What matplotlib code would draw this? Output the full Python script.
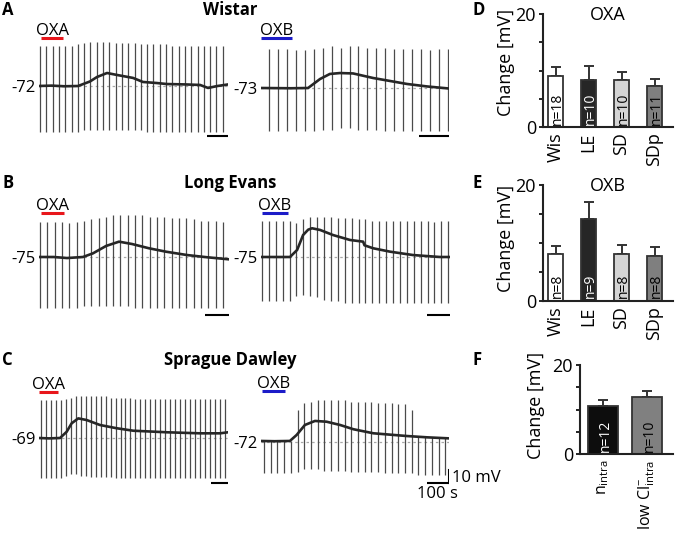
import numpy as np
import matplotlib.pyplot as plt

plt.rcParams['font.family'] = ['Open Sans', 'DejaVu Sans']
plt.rcParams['mathtext.fontset'] = 'custom'
plt.rcParams['mathtext.rm'] = 'Open Sans'

W, H = 675, 535
PX_MV = 1.3     # trace scale: pixels per mV
GAP = 30        # s between current pulses

# ---- A: Wistar ----  (t in s, vm / pulse tips in mV relative to rest)
wis_oxa_rest = -72
wis_oxa_t = [0, 60, 120, 186, 243, 276, 324, 371, 448, 495, 560, 610, 700, 767, 805, 850, 900]
wis_oxa_vm = [0, 0.3, -0.2, 0, 3.5, 6.9, 10, 8.5, 6.2, 3.1, 2.3, 1.5, 1.2, 0.8, -1.5, 0, 1.2]
wis_oxa_top = [31, 31, 31, 31, 31, 31, 32, 33, 34, 34, 34, 34, 33, 33, 33, 33,
               32, 32, 32, 32, 32, 31, 31, 31, 31, 31, 31, 31, 31, 31, 31]
wis_oxa_bot = [-35, -35, -35, -35, -35, -35, -35, -34, -34, -34, -34, -34, -34, -34, -34, -34,
               -34, -35, -35, -35, -35, -35, -35, -35, -35, -35, -35, -35, -35, -35, -35]
wis_oxa_drug = [10, 114]

wis_oxb_rest = -73
wis_oxb_t = [0, 100, 158, 198, 231, 265, 309, 376, 433, 490, 557, 631]
wis_oxb_vm = [0, -0.2, 0, 6.9, 10.8, 11.5, 11.2, 7.7, 5.4, 3.1, 1.2, -0.4]
wis_oxb_top = [30, 30, 30, 29, 29, 30, 31, 32, 31, 32, 32, 31, 31, 31, 30, 30, 30, 30, 29, 30, 30]
wis_oxb_bot = [-33, -33, -33, -33, -33, -33, -32, -32, -31, -31, -32, -32, -32, -33, -33,
               -33, -33, -33, -33, -33, -33]
wis_oxb_drug = [0, 104]

# ---- B: Long Evans ----
le_oxa_rest = -75
le_oxa_t = [0, 60, 115, 180, 221, 275, 328, 381, 451, 520, 607, 689, 779]
le_oxa_vm = [0, 0, -0.8, 0, 2.8, 8.5, 11.8, 10, 6.7, 4.1, 1.5, -0.2, -1.8]
le_oxa_top = [27, 27, 27, 27, 26, 27, 28, 29, 30, 31, 32, 32, 32, 32, 32, 31, 31, 31, 30, 30,
              30, 29, 28, 28, 28, 27]
le_oxa_bot = [-39, -39, -39, -39, -39, -39, -38, -38, -38, -38, -38, -38, -38, -39, -39, -39,
              -39, -39, -39, -39, -39, -39, -39, -39, -39, -39]
le_oxa_drug = [8, 102]

le_oxb_rest = -75
le_oxb_t = [0, 60, 126, 157, 183, 205, 222, 257, 313, 387, 444, 450, 488, 561, 661, 778, 822]
le_oxb_vm = [0, 0, 0, 5.4, 16.9, 21, 22.1, 20.8, 16.9, 13.1, 11.8, 9, 6.7, 4.1, 1.5, 0, 0]
le_oxb_top = [28, 28, 28, 28, 28, 26, 29, 31, 31, 31, 31, 30, 30, 30, 29, 29, 28, 28, 28, 28,
              28, 28, 28, 28, 28, 27, 28, 28]
le_oxb_bot = [-34, -34, -34, -34, -34, -30, -29, -30, -31, -33, -34, -34, -35, -35, -35, -35,
              -35, -35, -35, -35, -35, -35, -35, -35, -35, -35, -35, -35]
le_oxb_drug = [4, 117]

# ---- C: Sprague Dawley ----
sd_oxa_rest = -69
sd_oxa_t = [0, 60, 127, 167, 197, 237, 288, 368, 469, 569, 771, 972, 1093, 1140]
sd_oxa_vm = [0, -0.3, 0, 4.8, 11.3, 15.1, 13.8, 10, 7.5, 5.6, 4.4, 3.6, 3.6, 4.4]
sd_oxa_top = [29, 29, 29, 29, 29, 30, 31, 32, 32, 32, 32, 32, 32, 32, 31, 31, 31, 31, 31,
              30, 30, 30, 30, 30, 30, 30, 30, 30, 30, 30, 30, 30, 30, 30, 30, 30, 30, 30]
sd_oxa_bot = [-31, -31, -31, -31, -31, -29, -28, -28, -29, -29, -30, -30, -30, -30, -30, -31,
              -31, -31, -31, -31, -31, -31, -31, -31, -31, -31, -31, -31, -31, -31, -31, -31,
              -31, -31, -31, -31, -31, -31]
sd_oxa_drug = [0, 115]

sd_oxb_rest = -72
sd_oxb_t = [0, 60, 129, 159, 196, 241, 293, 353, 413, 502, 651, 741, 839]
sd_oxb_vm = [0.8, 0.6, 0.8, 5.4, 13.1, 16.2, 15.6, 13.1, 9.8, 6.7, 4.6, 3.6, 2.8]
sd_oxb_top = [1, 1, 1, 1, 1, 25, 30, 31, 32, 32, 32, 32, 32, 31, 31, 31, 31, 30, 30, 30,
              29, 29, 25, 4, 4, 3.5, 3.5, 3]
sd_oxb_bot = [-24, -24, -24, -24, -24, -23, -21, -21, -21, -22, -22, -22, -22, -23, -23, -23,
              -23, -23, -24, -24, -24, -24, -24, -25, -25, -25, -25, -25]
sd_oxb_drug = [5, 107]

# ---- D-F: mean change +/- SEM ----
rat_groups = ['Wis', 'LE', 'SD', 'SDp']
oxa_mean = [9.1, 8.3, 8.4, 7.3]
oxa_sem = [1.6, 2.5, 1.4, 1.2]
oxa_n = [18, 10, 10, 11]
oxb_mean = [8.0, 14.1, 8.0, 7.8]
oxb_sem = [1.5, 3.0, 1.7, 1.4]
oxb_n = [8, 9, 8, 8]
sol_groups = [r'n$_{\mathrm{intra}}$', r'low Cl$^{-}_{\mathrm{intra}}$']
sol_mean = [10.8, 12.7]
sol_sem = [1.3, 1.5]
sol_n = [12, 10]

fig = plt.figure(figsize=(W / 100, H / 100), dpi=100)


def fy(row):
    # pixel row (from top) -> figure fraction
    return 1 - row / H


def draw_trace(x0, base, pps, drug_row, bar_row, t, vm, top, bot, first, rest, drug, label, colour):
    ylo, yhi = -55, 50
    t_end = t[-1]
    ax = fig.add_axes([x0 / W, fy(base - ylo * PX_MV), t_end * pps / W, (yhi - ylo) * PX_MV / H])
    ax.set_xlim(0, t_end)
    ax.set_ylim(ylo, yhi)
    ax.axis('off')
    pulses = first + GAP * np.arange(len(top))
    ax.vlines(pulses, bot, top, colors='#4a4a4a', lw=0.9, zorder=2)
    ax.axhline(0, color='#a8a8a8', lw=0.9, ls=(0, (2, 2.5)), zorder=1)
    ax.plot(t, vm, color='#262626', lw=1.9, zorder=3)
    yd = (base - drug_row) / PX_MV
    ax.plot(drug, [yd, yd], color=colour, lw=2.2, solid_capstyle='butt')
    ax.annotate(label, (np.mean(drug), yd), xytext=(0, 3), textcoords='offset pixels',
                ha='center', va='baseline', fontsize=12)
    ax.annotate(str(rest), (0, 0), xytext=(-3, 0), textcoords='offset pixels',
                ha='right', va='center_baseline', fontsize=12)
    ys = (base - bar_row) / PX_MV
    ax.plot([t_end - 100, t_end], [ys, ys], color='k', lw=1.5, solid_capstyle='butt')
    return ax, ys


draw_trace(39, 86, 0.21, 38, 136, wis_oxa_t, wis_oxa_vm, wis_oxa_top, wis_oxa_bot, 5,
           wis_oxa_rest, wis_oxa_drug, 'OXA', '#e8161b')
draw_trace(261, 88, 0.298, 38, 136, wis_oxb_t, wis_oxb_vm, wis_oxb_top, wis_oxb_bot, 27,
           wis_oxb_rest, wis_oxb_drug, 'OXB', '#1c1cc8')
draw_trace(39, 257, 0.244, 213, 315, le_oxa_t, le_oxa_vm, le_oxa_top, le_oxa_bot, 4,
           le_oxa_rest, le_oxa_drug, 'OXA', '#e8161b')
draw_trace(261, 257, 0.23, 213, 315, le_oxb_t, le_oxb_vm, le_oxb_top, le_oxb_bot, 4,
           le_oxb_rest, le_oxb_drug, 'OXB', '#1c1cc8')
draw_trace(39, 438, 0.1657, 392, 483, sd_oxa_t, sd_oxa_vm, sd_oxa_top, sd_oxa_bot, 12,
           sd_oxa_rest, sd_oxa_drug, 'OXA', '#e8161b')
ax, ys = draw_trace(261, 442, 0.224, 391, 483, sd_oxb_t, sd_oxb_vm, sd_oxb_top, sd_oxb_bot, 13,
                    sd_oxb_rest, sd_oxb_drug, 'OXB', '#1c1cc8')
# combined 10 mV / 100 s scale bar
t_end = sd_oxb_t[-1]
ax.plot([t_end, t_end], [ys, ys + 10], color='k', lw=1.5, solid_capstyle='projecting')
ax.annotate('10 mV', (t_end, ys + 5), xytext=(3, 0), textcoords='offset pixels',
            ha='left', va='center_baseline', fontsize=12)
ax.annotate('100 s', (t_end - 50, ys), xytext=(0, -3), textcoords='offset pixels',
            ha='center', va='top', fontsize=12)

# row titles and panel letters
for txt, row in [('Wistar', 10), ('Long Evans', 183), ('Sprague Dawley', 360)]:
    fig.text(230 / W, fy(row), txt, ha='center', va='center', fontsize=12, fontweight='bold')
for txt, x, row in [('A', 2, 10), ('B', 2, 183), ('C', 2, 360),
                    ('D', 472, 10), ('E', 472, 183), ('F', 473, 360)]:
    fig.text(x / W, fy(row), txt, ha='left', va='center', fontsize=12, fontweight='bold')


def draw_bars(box, groups, mean, sem, n, colours, ncolours, width, xlim, label_xy,
              title=None, xsize=13):
    x_l, top, x_r, bottom = box
    ax = fig.add_axes([x_l / W, fy(bottom), (x_r - x_l) / W, (bottom - top) / H])
    x = np.arange(len(groups))
    ax.errorbar(x, mean, yerr=[np.zeros(len(sem)), sem], fmt='none', ecolor='#333333',
                elinewidth=1.4, capsize=3.5, capthick=1.4, zorder=1)
    ax.bar(x, mean, width, color=colours, edgecolor='#333333', linewidth=1.3, zorder=2)
    for xi, ni, c in zip(x, n, ncolours):
        ax.text(xi, 0.4, f'n={ni}', rotation=90, rotation_mode='anchor', ha='left',
                va='center_baseline', color=c, fontsize=10, zorder=3)
    ax.set_xlim(*xlim)
    ax.set_ylim(0, 20)
    ax.set_yticks([0, 5, 10, 15, 20])
    ax.set_yticklabels(['0', '', '', '', '20'])
    ax.set_xticks(x)
    ax.set_xticklabels(groups, rotation=90)
    ax.tick_params(axis='y', length=3, width=1.2, pad=2, labelsize=13)
    ax.tick_params(axis='x', length=0, pad=4, labelsize=xsize)
    for s in ['top', 'right']:
        ax.spines[s].set_visible(False)
    for s in ['left', 'bottom']:
        ax.spines[s].set_linewidth(1.5)
        ax.spines[s].set_color('#222222')
    ax.set_ylabel('Change [mV]', fontsize=13)
    ax.yaxis.set_label_coords(*label_xy)
    if title:
        ax.text(0.5, 0.99, title, transform=ax.transAxes, ha='center', va='center', fontsize=13)
    return ax


strain_cols = ['white', '#262626', '#d4d4d4', '#7f7f7f']
strain_ncols = ['black', 'white', 'black', 'black']
draw_bars((543, 14, 673, 127), rat_groups, oxa_mean, oxa_sem, oxa_n, strain_cols, strain_ncols,
          0.44, (-0.38, 3.56), (-0.215, 0.57), 'OXA')
draw_bars((543, 185, 673, 300.7), rat_groups, oxb_mean, oxb_sem, oxb_n, strain_cols, strain_ncols,
          0.44, (-0.38, 3.56), (-0.215, 0.54), 'OXB')
draw_bars((580, 365, 673, 454), sol_groups, sol_mean, sol_sem, sol_n, ['#0d0d0d', '#808080'],
          ['white', 'black'], 0.68, (-0.52, 1.59), (-0.376, 0.55), xsize=11.5)

fig.savefig('out.png', dpi=100)
